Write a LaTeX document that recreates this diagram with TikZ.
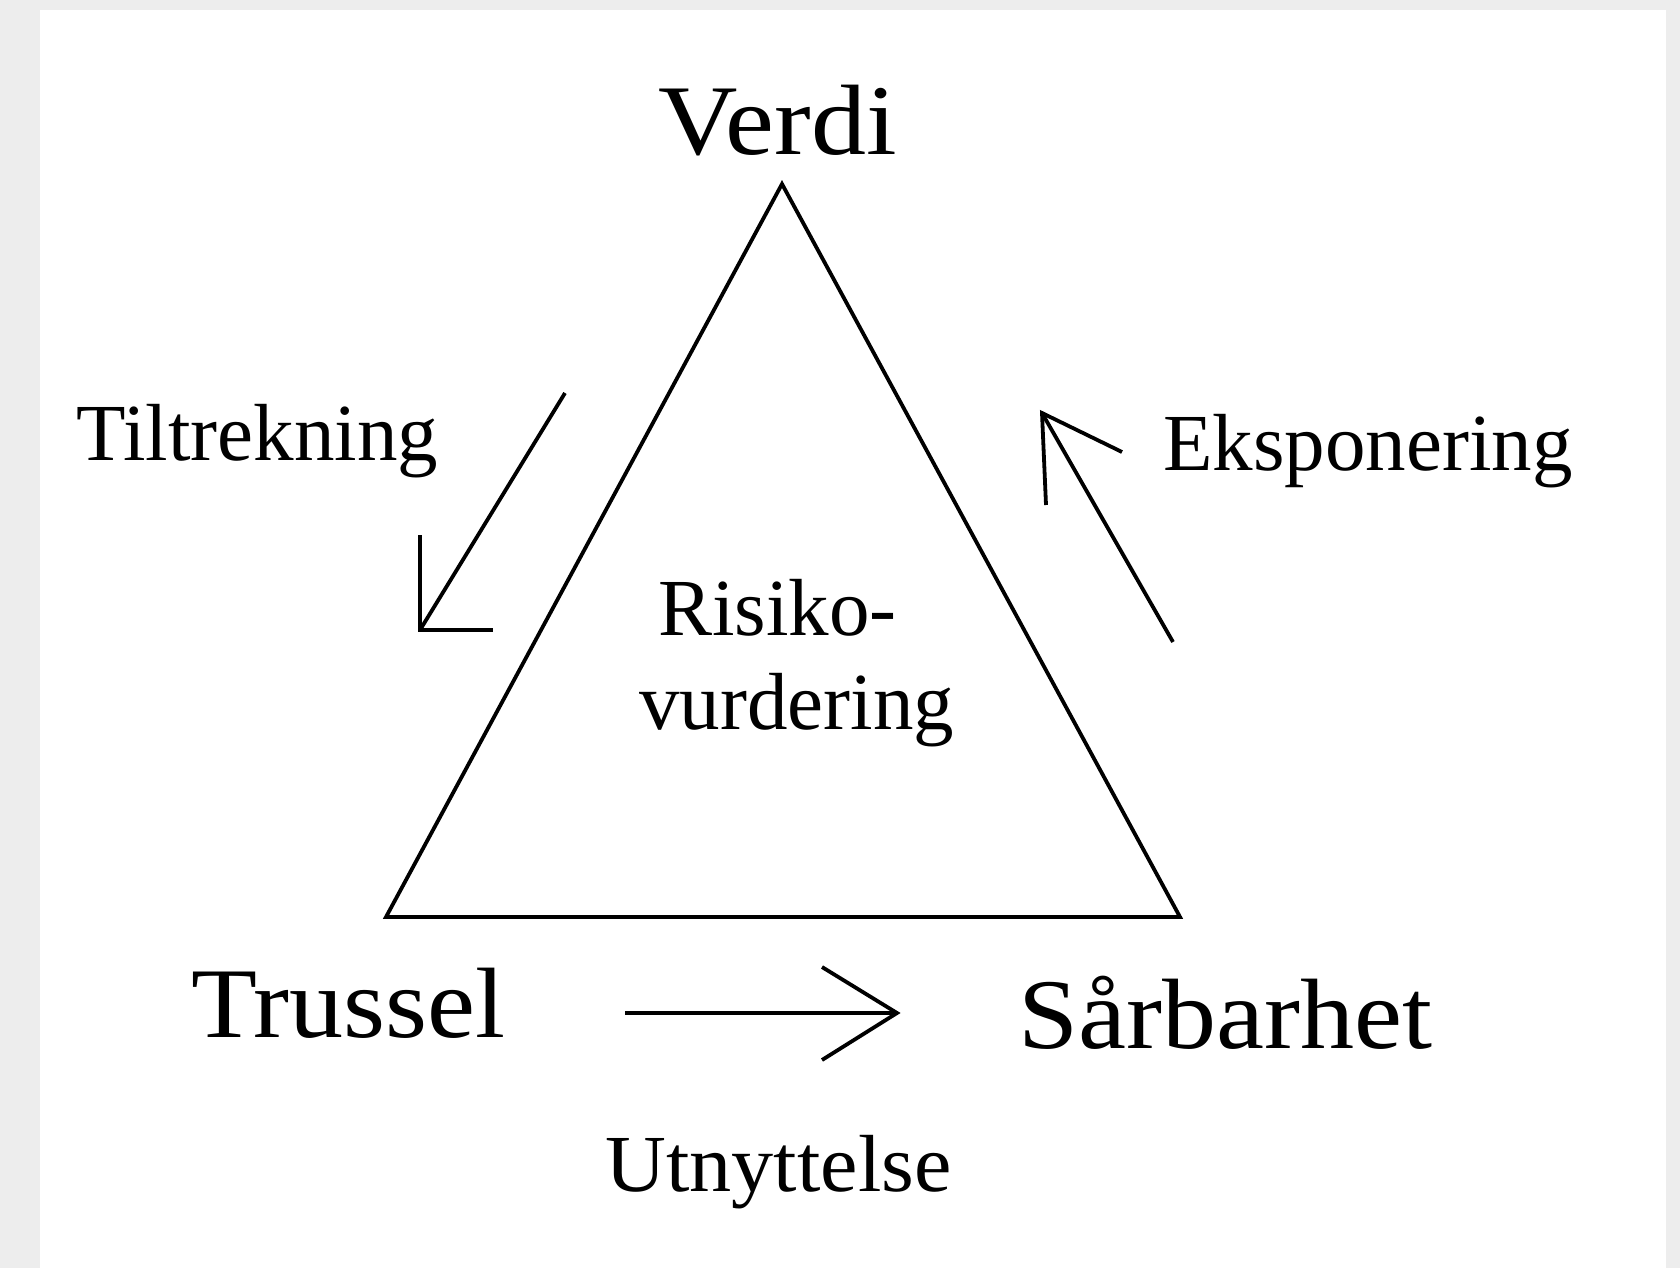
\documentclass[tikz,border=0pt]{standalone}
\usepackage{fontspec}
\setmainfont{Liberation Serif}
\newfontfamily\bigA[FakeStretch=1.10]{Liberation Serif}
\newfontfamily\bigB[FakeStretch=1.08]{Liberation Serif}
\newfontfamily\smallU[FakeStretch=1.04]{Liberation Serif}
\begin{document}
\begin{tikzpicture}[x=0.5pt,y=-0.5pt,
  big/.style={inner sep=0pt,anchor=base west,font=\bigB\fontsize{50}{58}\selectfont},
  small/.style={inner sep=0pt,anchor=base west,font=\fontsize{40.5}{48}\selectfont},
  ln/.style={line width=1.9pt,line join=miter,line cap=butt}]
\fill[gray!14] (0,0) rectangle (1680,1268);
\fill[white] (40,10) rectangle (1666,1268);
\useasboundingbox (0,0) rectangle (1680,1268);
% triangle
\coordinate (apex) at (782,184);
\coordinate (bl) at (386,917);
\coordinate (br) at (1180,917);
\draw[ln] (apex) -- (bl) -- (br) -- cycle;
% labels
\node[big,font=\bigA\fontsize{50}{58}\selectfont] (verdi) at (658,155) {Verdi};
\node[big] (trussel) at (191,1037) {Trussel};
\node[big] (sarbarhet) at (1018,1048) {Sårbarhet};
\node[small] (tiltrekning) at (76,460) {Tiltrekning};
\node[small] (eksponering) at (1163,470) {Eksponering};
\node[small,font=\smallU\fontsize{40.5}{48}\selectfont] (utnyttelse) at (605,1191) {Utnyttelse};
\node[small] (risiko) at (658,635) {Risiko-};
\node[small] (vurdering) at (639,729) {vurdering};
% Tiltrekning arrow
\coordinate (a1s) at (565,393);
\coordinate (a1t) at (420,630);
\coordinate (a1l) at (420,535);
\coordinate (a1r) at (493,630);
\draw[ln] (a1s) -- (a1t);
\draw[ln] (a1l) -- (a1t) -- (a1r);
% Eksponering arrow
\coordinate (a2s) at (1173,642);
\coordinate (a2t) at (1042,413);
\coordinate (a2l) at (1046,505);
\coordinate (a2r) at (1122,452);
\draw[ln] (a2s) -- (a2t);
\draw[ln] (a2l) -- (a2t) -- (a2r);
% Utnyttelse arrow
\coordinate (a3s) at (625,1013);
\coordinate (a3t) at (897,1013);
\coordinate (a3u) at (822,967);
\coordinate (a3d) at (822,1060);
\draw[ln] (a3s) -- (a3t);
\draw[ln] (a3u) -- (a3t) -- (a3d);
\end{tikzpicture}
\end{document}
